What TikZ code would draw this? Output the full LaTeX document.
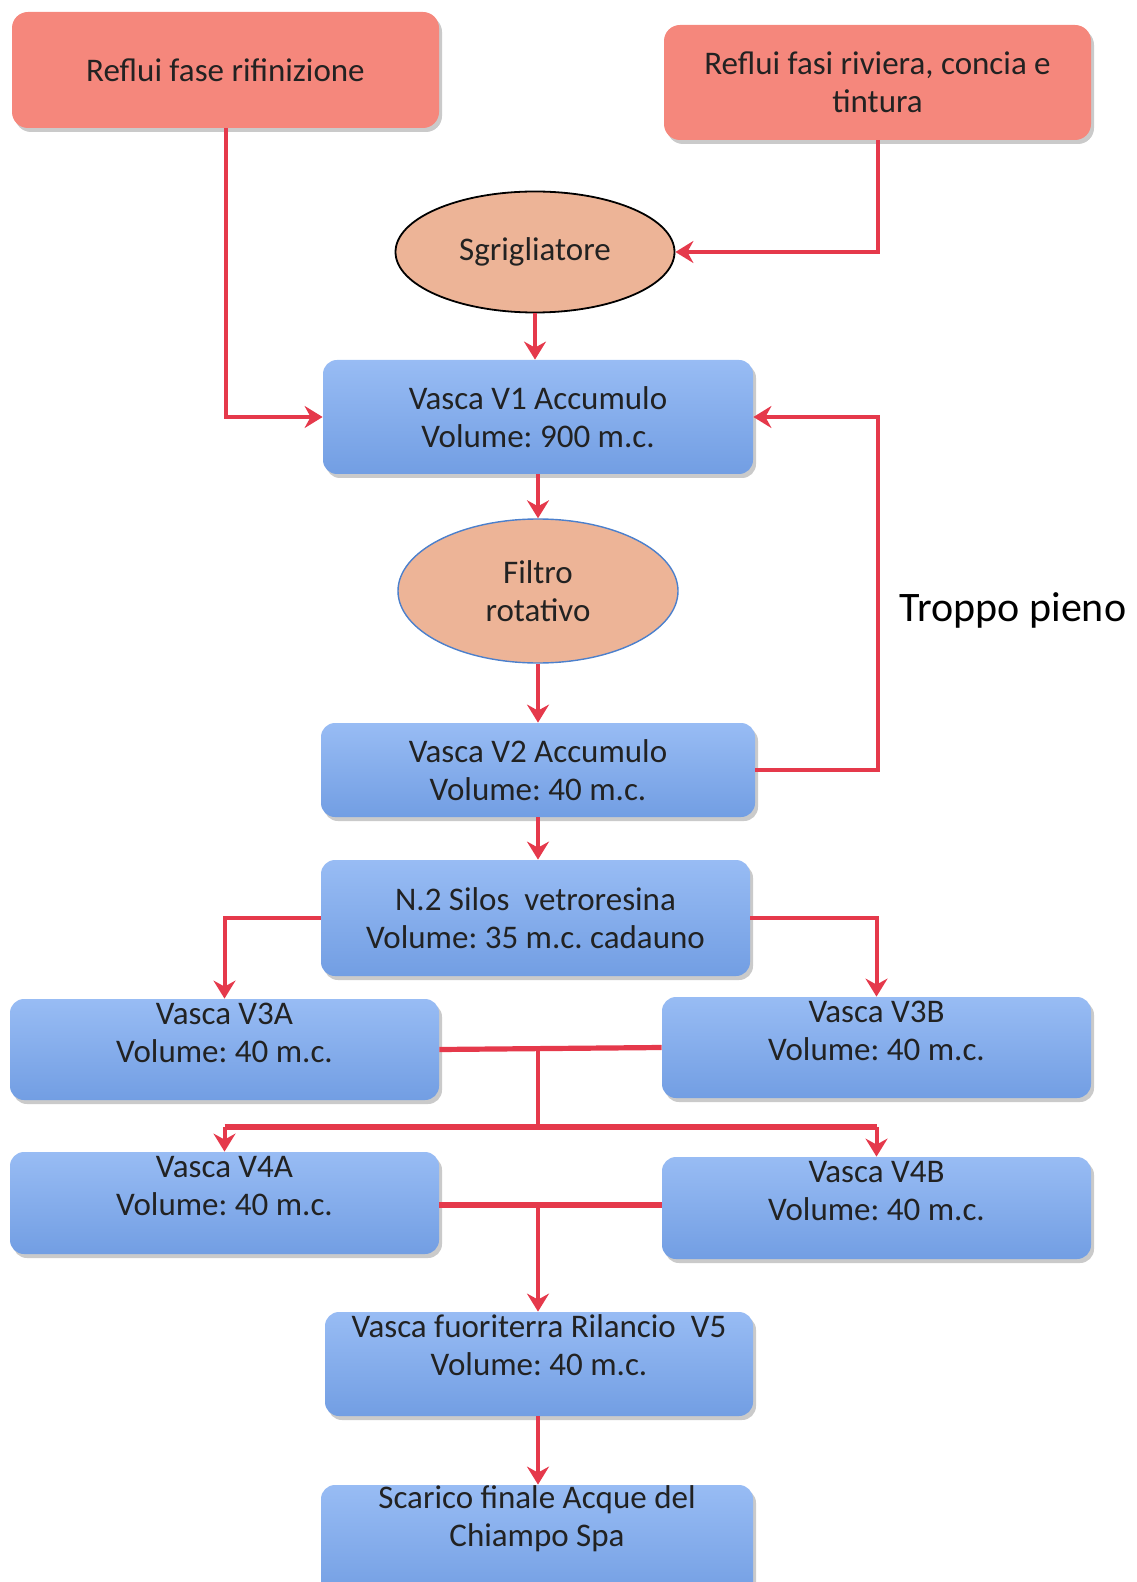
\documentclass[tikz,border=0pt]{standalone}
\usepackage{fontspec}
\setmainfont{Carlito}
\usetikzlibrary{arrows.meta,shapes.geometric,shadows,calc}
\frenchspacing

\definecolor{flowred}{HTML}{E5394B}
\definecolor{srcfill}{HTML}{F5877C}
\definecolor{bluetop}{HTML}{98BCF4}
\definecolor{bluebot}{HTML}{729EE3}
\definecolor{peach}{HTML}{EDB497}
\definecolor{ringblue}{HTML}{4C80CC}
\definecolor{ink}{HTML}{222222}

\tikzset{
  every node/.style={font=\fontsize{16.5}{19}\selectfont, text=ink, align=center},
  boxshadow/.style={drop shadow={shadow xshift=1.5pt, shadow yshift=-2pt, opacity=0.35, fill=black!60}},
  srcbox/.style={rectangle, rounded corners=8pt, fill=srcfill, boxshadow, inner sep=0pt},
  tank/.style={rectangle, rounded corners=7pt, top color=bluetop, bottom color=bluebot, boxshadow, inner sep=0pt},
  unit/.style={ellipse, fill=peach, inner sep=0pt},
  toptext/.style={anchor=center, yshift=-17pt, inner sep=0pt},
  flow/.style={draw=flowred, line width=2pt, -{Stealth[length=9pt, width=11pt, inset=3pt]}},
  pipe/.style={draw=flowred, line width=2pt},
  header/.style={draw=flowred, line width=2.6pt},
}

\begin{document}
\begin{tikzpicture}[x=0.5pt, y=-0.5pt]
  \useasboundingbox (0,0) rectangle (1136,1582);

  % sources
  \node[srcbox, minimum width=213.5pt, minimum height=58pt] (r1) at (225.5,70) {Reflui fase rifinizione};
  \node[srcbox, minimum width=213.5pt, minimum height=57.5pt] (r2) at (877.5,82.5) {Reflui fasi riviera, concia e\\tintura};

  % screening and filtering units
  \node[unit, draw=black, line width=0.9pt, minimum width=139.5pt, minimum height=60.5pt] (sgr) at (535,252) {Sgrigliatore};
  \node[unit, draw=ringblue, line width=0.7pt, minimum width=140pt, minimum height=72pt] (filt) at (538,591) {Filtro\\rotativo};

  % tanks
  \node[tank, minimum width=215pt, minimum height=57pt] (v1) at (538,417) {Vasca V1 Accumulo\\Volume: 900 m.c.};
  \node[tank, minimum width=217pt, minimum height=47pt] (v2) at (538,770) {Vasca V2 Accumulo\\Volume: 40 m.c.};
  \node[tank, minimum width=214.5pt, minimum height=58pt] (silos) at (535.5,918) {N.2 Silos\ \ vetroresina\\Volume: 35 m.c. cadauno};
  \node[tank, minimum width=214.5pt, minimum height=50.5pt,
        label={[toptext]north:{Vasca V3A\\Volume: 40 m.c.}}] (v3a) at (224.5,1049.5) {};
  \node[tank, minimum width=214.5pt, minimum height=50.5pt,
        label={[toptext]north:{Vasca V3B\\Volume: 40 m.c.}}] (v3b) at (876.5,1047.5) {};
  \node[tank, minimum width=214.5pt, minimum height=51pt,
        label={[toptext]north:{Vasca V4A\\Volume: 40 m.c.}}] (v4a) at (224.5,1203) {};
  \node[tank, minimum width=214.5pt, minimum height=51pt,
        label={[toptext]north:{Vasca V4B\\Volume: 40 m.c.}}] (v4b) at (876.5,1208) {};
  \node[tank, minimum width=214pt, minimum height=52pt,
        label={[toptext]north:{Vasca fuoriterra Rilancio\ \ V5\\Volume: 40 m.c.}}] (v5) at (539,1364) {};
  \node[tank, minimum width=216pt, minimum height=57.5pt,
        label={[toptext]north:{Scarico finale Acque del\\Chiampo Spa}}] (out) at (537,1542.5) {};

  % overflow note
  \node[font=\fontsize{21}{25}\selectfont, text=black] (over) at (1013,610) {Troppo pieno};

  % main flow
  \draw[flow] (r1.south) |- (v1.west);
  \draw[flow] (r2.south) |- (sgr.east);
  \draw[flow] (sgr.south) -- (sgr.south |- v1.north);
  \draw[flow] (v1.south) -- (filt.north);
  \draw[flow] (filt.south) -- (v2.north);
  \draw[flow] (v2.east) -- ++(123,0) coordinate (ovr) |- (v1.east);
  \draw[flow] (v2.south) -- (v2.south |- silos.north);
  \draw[flow] (silos.west) -| (v3a.north);
  \draw[flow] (silos.east) -| (v3b.north);

  % V3 pair collector and split to V4
  \coordinate (j3) at (538,1049);
  \coordinate (s4) at (538,1127);
  \draw[header] (v3a.east) -- (v3b.west);
  \draw[pipe, line width=1.6pt] (j3) -- (s4);
  \draw[header] (v4a.north |- s4) -- (v4b.north |- s4);
  \draw[flow] (v4a.north |- s4) -- (v4a.north);
  \draw[flow] (v4b.north |- s4) -- (v4b.north);

  % V4 pair collector to V5
  \coordinate (j4) at (538,1205);
  \draw[header] (v4a.east |- j4) -- (v4b.west |- j4);
  \draw[flow, line width=1.6pt] (j4) -- (j4 |- v5.north);
  \draw[flow] (v5.south -| j4) -- (j4 |- out.north);
\end{tikzpicture}
\end{document}
